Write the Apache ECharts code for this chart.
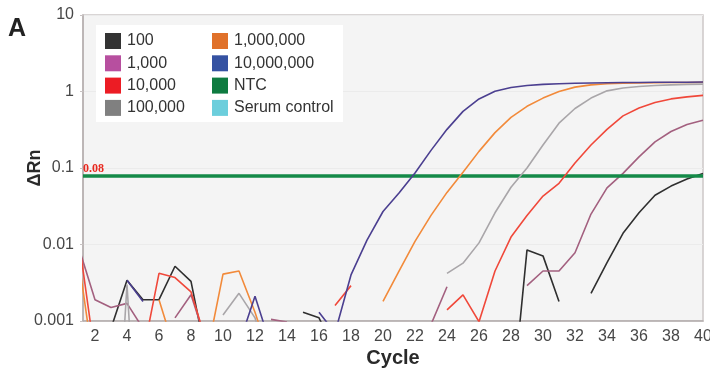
<!DOCTYPE html>
<html>
<head>
<meta charset="utf-8">
<script src="https://cdn.jsdelivr.net/npm/echarts@6/dist/echarts.min.js"></script>
<style>
html,body{margin:0;padding:0;background:#fff;}
#chart{width:710px;height:375px;}
</style>
</head>
<body>
<div id="chart"></div>
<script>
// ---- data (ΔRn per cycle; null = not drawn) ----
const cycles = [1,2,3,4,5,6,7,8,9,10,11,12,13,14,15,16,17,18,19,20,21,22,23,24,25,26,27,28,29,30,31,32,33,34,35,36,37,38,39,40];
const s100 = [null,null,0.0008,0.0034,0.0019,0.0019,0.0052,0.0033,0.0003,null,null,null,null,null,0.0013,0.0011,0.0004,null,null,null,null,null,null,null,null,null,null,0.00006,0.0085,0.0071,0.0018,null,0.0023,0.0058,0.014,0.026,0.044,0.058,0.072,0.085];
const s1000 = [0.0089,0.0019,0.0015,0.0017,0.0008,null,0.0011,0.0022,0.0005,null,null,null,0.00105,0.00097,null,null,null,null,null,null,null,null,0.0009,0.0028,null,null,null,null,0.0029,0.0045,0.0045,0.0078,0.025,0.055,0.085,0.14,0.22,0.3,0.37,0.42];
const s10000 = [0.011,0.00035,null,null,0.00037,0.0042,0.0037,0.0024,0.0005,null,null,null,null,null,null,null,0.0016,0.0029,null,null,null,null,null,0.0014,0.0022,0.00098,0.0045,0.0125,0.024,0.043,0.063,0.116,0.2,0.32,0.48,0.61,0.72,0.8,0.85,0.89];
const s100000 = [null,null,0.000001,0.003,0.000001,null,null,null,null,0.0012,0.0023,0.0011,0.0002,null,null,null,null,null,null,null,null,null,null,0.0042,0.0057,0.0105,0.026,0.056,0.1,0.2,0.385,0.6,0.82,1.02,1.11,1.16,1.2,1.22,1.24,1.25];
const s1000000 = [0.0059,0.0002,null,null,null,0.0019,0.0004,null,0.00037,0.0041,0.0045,0.0013,0.0003,null,null,null,null,null,null,0.0018,0.0045,0.011,0.024,0.048,0.088,0.165,0.29,0.46,0.64,0.82,1.0,1.14,1.22,1.26,1.28,1.29,1.3,1.31,1.31,1.32];
const s10000000 = [null,null,null,0.0034,0.0018,null,null,null,null,null,0.0005,0.0021,0.00047,null,null,0.0013,0.0007,0.004,0.0114,0.027,0.047,0.086,0.17,0.32,0.55,0.8,1.01,1.13,1.2,1.24,1.26,1.28,1.29,1.3,1.31,1.31,1.32,1.32,1.32,1.33];
const sNTC = [];
const sSerum = [];
const threshold = 0.08;
const seriesNames = ['100','1,000','10,000','100,000','1,000,000','10,000,000','NTC','Serum control'];
const xTickLabels = [2,4,6,8,10,12,14,16,18,20,22,24,26,28,30,32,34,36,38,40];
const yTickLabels = ['0.001','0.01','0.1','1','10'];

// ---- styles ----
const legendColors = ['#333333','#b74f9f','#ec1c24','#808080','#e0712a','#3552a2','#0e7b40','#6ccedc'];
const lineColors   = ['#2f2f2f','#a3607f','#f0483a','#a9a6a9','#f28a3a','#4b3f90','#148a48','#6ccedc'];
const seriesData = [s100,s1000,s10000,s100000,s1000000,s10000000,sNTC,sSerum];

function toPairs(arr){
  return arr.map((v,i)=>[cycles[i], v==null ? '-' : v]);
}

const FONT = 'Liberation Sans, Arial, Helvetica, sans-serif';

const series = seriesNames.map((name,k)=>{
  const s = {
    name: name,
    type: 'line',
    data: toPairs(seriesData[k]),
    showSymbol: false,
    symbol: 'none',
    connectNulls: false,
    clip: true,
    color: legendColors[k],
    lineStyle: {color: lineColors[k], width: 1.6},
    z: 3 + k
  };
  if (name === 'NTC') {
    s.z = 20;
    s.markLine = {
      silent: true,
      symbol: 'none',
      animation: false,
      lineStyle: {color: '#148a48', width: 3.5, type: 'solid'},
      label: {
        show: true,
        position: 'insideStartTop',
        formatter: String(threshold),
        color: '#e8281e',
        fontFamily: 'Liberation Serif, DejaVu Serif, serif',
        fontWeight: 'bold',
        fontSize: 12,
        distance: [0, 1]
      },
      data: [{yAxis: threshold}]
    };
  }
  return s;
});

const chart = echarts.init(document.getElementById('chart'), null, {renderer: 'canvas'});
chart.setOption({
  animation: false,
  backgroundColor: '#ffffff',
  grid: {
    left: 83, right: 7, top: 15, bottom: 54,
    outerBoundsMode: 'none',
    containLabel: false,
    show: true,
    backgroundColor: '#f4f4f4',
    borderColor: '#cdc8c8',
    borderWidth: 1.5
  },
  xAxis: {
    type: 'value',
    min: 1.25,
    max: 40,
    name: 'Cycle',
    nameLocation: 'middle',
    nameGap: 27,
    nameMoveOverlap: false,
    nameTextStyle: {fontFamily: FONT, fontSize: 20, fontWeight: 'bold', color: '#2a2a2a'},
    axisLine: {show: true, lineStyle: {color: '#b3acac', width: 1.5}},
    axisTick: {show: false},
    splitLine: {show: false},
    axisLabel: {
      customValues: xTickLabels,
      fontFamily: FONT, fontSize: 16, color: '#474747', margin: 8
    }
  },
  yAxis: {
    type: 'log',
    logBase: 10,
    min: 0.001,
    max: 10,
    name: 'ΔRn',
    nameLocation: 'middle',
    nameGap: 39,
    nameRotate: 90,
    nameMoveOverlap: false,
    nameTextStyle: {fontFamily: FONT, fontSize: 18, fontWeight: 'bold', color: '#2a2a2a'},
    axisLine: {show: true, lineStyle: {color: '#b3acac', width: 1.5}},
    axisTick: {show: true, length: 3, lineStyle: {color: '#c8c2c2'}},
    splitLine: {show: true, lineStyle: {color: '#ebebeb', width: 1}},
    minorTick: {show: false},
    axisLabel: {
      fontFamily: FONT, fontSize: 16, color: '#474747', margin: 9,
      formatter: function(v){
        const idx = Math.round(Math.log10(v)) + 3;
        return yTickLabels[idx] !== undefined ? yTickLabels[idx] : '';
      }
    }
  },
  legend: [
    {
      data: seriesNames.slice(0,4),
      orient: 'vertical',
      left: 105, top: 33,
      icon: 'rect',
      itemWidth: 16, itemHeight: 16, itemGap: 6.3,
      selectedMode: false,
      itemStyle: {borderWidth: 0},
      textStyle: {fontFamily: FONT, fontSize: 16, color: '#333', lineHeight: 16, padding: [0,0,0,1]},
      padding: 0,
      z: 10
    },
    {
      data: seriesNames.slice(4),
      orient: 'vertical',
      left: 212, top: 33,
      icon: 'rect',
      itemWidth: 16, itemHeight: 16, itemGap: 6.3,
      selectedMode: false,
      itemStyle: {borderWidth: 0},
      textStyle: {fontFamily: FONT, fontSize: 16, color: '#333', lineHeight: 16, padding: [0,0,0,1]},
      padding: 0,
      z: 10
    }
  ],
  graphic: [
    {type: 'rect', left: 96, top: 25, z: 1,
     shape: {width: 247, height: 97}, style: {fill: '#ffffff'}},
    {type: 'text', left: 8, top: 17, z: 100,
     style: {text: 'A', fontFamily: FONT, fontSize: 25, fontWeight: 'bold', fill: '#222'}}
  ],
  series: series
});
</script>
</body>
</html>
